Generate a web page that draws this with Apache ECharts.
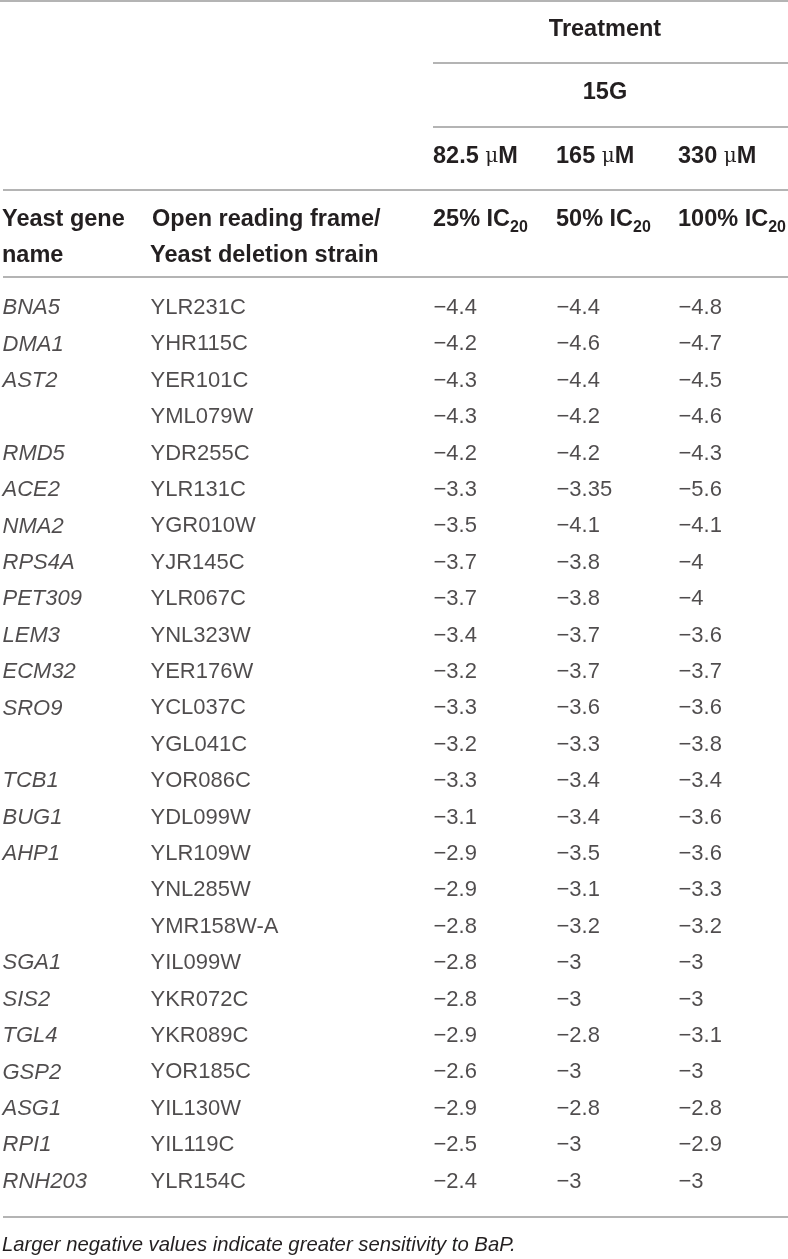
<!DOCTYPE html>
<html>
<head>
<meta charset="utf-8">
<script src="https://cdn.jsdelivr.net/npm/echarts@6/dist/echarts.min.js"></script>
<style>
  html, body { margin: 0; padding: 0; background: #fff; }
  #box_table { width: 788px; height: 1259px; }
</style>
</head>
<body>
<div id="box_table"></div>
<script>
// 表格数据
var genes = ['BNA5', 'DMA1', 'AST2', '', 'RMD5', 'ACE2', 'NMA2', 'RPS4A', 'PET309', 'LEM3', 'ECM32', 'SRO9', '',
  'TCB1', 'BUG1', 'AHP1', '', '', 'SGA1', 'SIS2', 'TGL4', 'GSP2', 'ASG1', 'RPI1', 'RNH203'];
var orfs = ['YLR231C', 'YHR115C', 'YER101C', 'YML079W', 'YDR255C', 'YLR131C', 'YGR010W', 'YJR145C', 'YLR067C',
  'YNL323W', 'YER176W', 'YCL037C', 'YGL041C', 'YOR086C', 'YDL099W', 'YLR109W', 'YNL285W', 'YMR158W-A',
  'YIL099W', 'YKR072C', 'YKR089C', 'YOR185C', 'YIL130W', 'YIL119C', 'YLR154C'];
var ic25 = [-4.4, -4.2, -4.3, -4.3, -4.2, -3.3, -3.5, -3.7, -3.7, -3.4, -3.2, -3.3, -3.2,
  -3.3, -3.1, -2.9, -2.9, -2.8, -2.8, -2.8, -2.9, -2.6, -2.9, -2.5, -2.4];
var ic50 = [-4.4, -4.6, -4.4, -4.2, -4.2, -3.35, -4.1, -3.8, -3.8, -3.7, -3.7, -3.6, -3.3,
  -3.4, -3.4, -3.5, -3.1, -3.2, -3, -3, -2.8, -3, -2.8, -3, -3];
var ic100 = [-4.8, -4.7, -4.5, -4.6, -4.3, -5.6, -4.1, -4, -4, -3.6, -3.7, -3.6, -3.8,
  -3.4, -3.6, -3.6, -3.3, -3.2, -3, -3, -3.1, -3, -2.8, -2.9, -3];
var doses = ['82.5', '165', '330'];
var pcts = ['25%', '50%', '100%'];

// 版式
var colX = [2, 150, 433, 556, 678];
var textColor = '#231f20';
var ruleColor = '#b4b4b4';
var font = '"Liberation Sans", Helvetica, Arial, sans-serif';

function fmt(v) {
  return v < 0 ? '\u2212' + String(Math.abs(v)) : String(v);
}

var columns = [
  { list: genes, italic: true, text: function (v) { return v; } },
  { list: orfs, italic: false, text: function (v) { return v; } },
  { list: ic25, italic: false, text: fmt },
  { list: ic50, italic: false, text: fmt },
  { list: ic100, italic: false, text: fmt }
];

var series = columns.map(function (col, c) {
  return {
    type: 'scatter',
    silent: true,
    symbolSize: 1,
    itemStyle: { color: 'rgba(0,0,0,0)' },
    data: col.list.map(function (v, i) { return [colX[c], i]; }),
    label: {
      show: true,
      position: 'right',
      distance: 0,
      color: textColor,
      fontFamily: font,
      fontSize: 22,
      fontStyle: col.italic ? 'italic' : 'normal',
      formatter: function (p) { return col.text(col.list[p.dataIndex]); }
    }
  };
});

function rule(x1, x2, y) {
  return { type: 'line', shape: { x1: x1, y1: y, x2: x2, y2: y }, style: { stroke: ruleColor, lineWidth: 2 } };
}
function head(text, x, y, align) {
  return {
    type: 'text', x: x, y: y,
    style: {
      text: text, fill: textColor, align: align || 'left', verticalAlign: 'middle',
      font: 'bold 23.5px ' + font,
      rich: {
        b: { fontFamily: font, fontWeight: 'bold', fontSize: 23.5, lineHeight: 32, verticalAlign: 'middle', fill: textColor },
        mu: { fontFamily: '"DejaVu Serif", serif', fontWeight: 'normal', fontSize: 20, lineHeight: 32, verticalAlign: 'middle', fill: textColor },
        sub: { fontFamily: font, fontWeight: 'bold', fontSize: 16, lineHeight: 16, verticalAlign: 'bottom', fill: textColor }
      }
    }
  };
}

var graphics = [
  rule(0, 788, 1),
  head('Treatment', 605, 30, 'center'),
  rule(433, 788, 63),
  head('15G', 605, 93, 'center'),
  rule(433, 788, 127),
  rule(3, 788, 190),
  head('Yeast gene', 2, 220),
  head('name', 2, 256),
  head('Open reading frame/', 152, 220),
  head('Yeast deletion strain', 150, 256),
  rule(3, 788, 277),
  rule(3, 788, 1217),
  {
    type: 'text', x: 2, y: 1245,
    style: {
      text: 'Larger negative values indicate greater sensitivity to BaP.',
      fill: textColor, verticalAlign: 'middle',
      font: 'italic 20.3px ' + font
    }
  }
];
doses.forEach(function (d, k) {
  graphics.push(head('{b|' + d + ' }{mu|\u03bc}{b|M}', colX[k + 2], 157));
  graphics.push(head('{b|' + pcts[k] + ' IC}{sub|20}', colX[k + 2], 220));
});

var myChart = echarts.init(document.getElementById('box_table'));
var options = {
  animation: false,
  grid: { left: 0, right: 0, top: 289.8, bottom: 59.2 },
  xAxis: { type: 'value', min: 0, max: 788, show: false },
  yAxis: { type: 'category', inverse: true, show: false, data: orfs.map(function (o, i) { return i; }) },
  series: series,
  graphic: graphics
};
myChart.setOption(options);
window.addEventListener('resize', function () {
  myChart.resize();
});
</script>
</body>
</html>
